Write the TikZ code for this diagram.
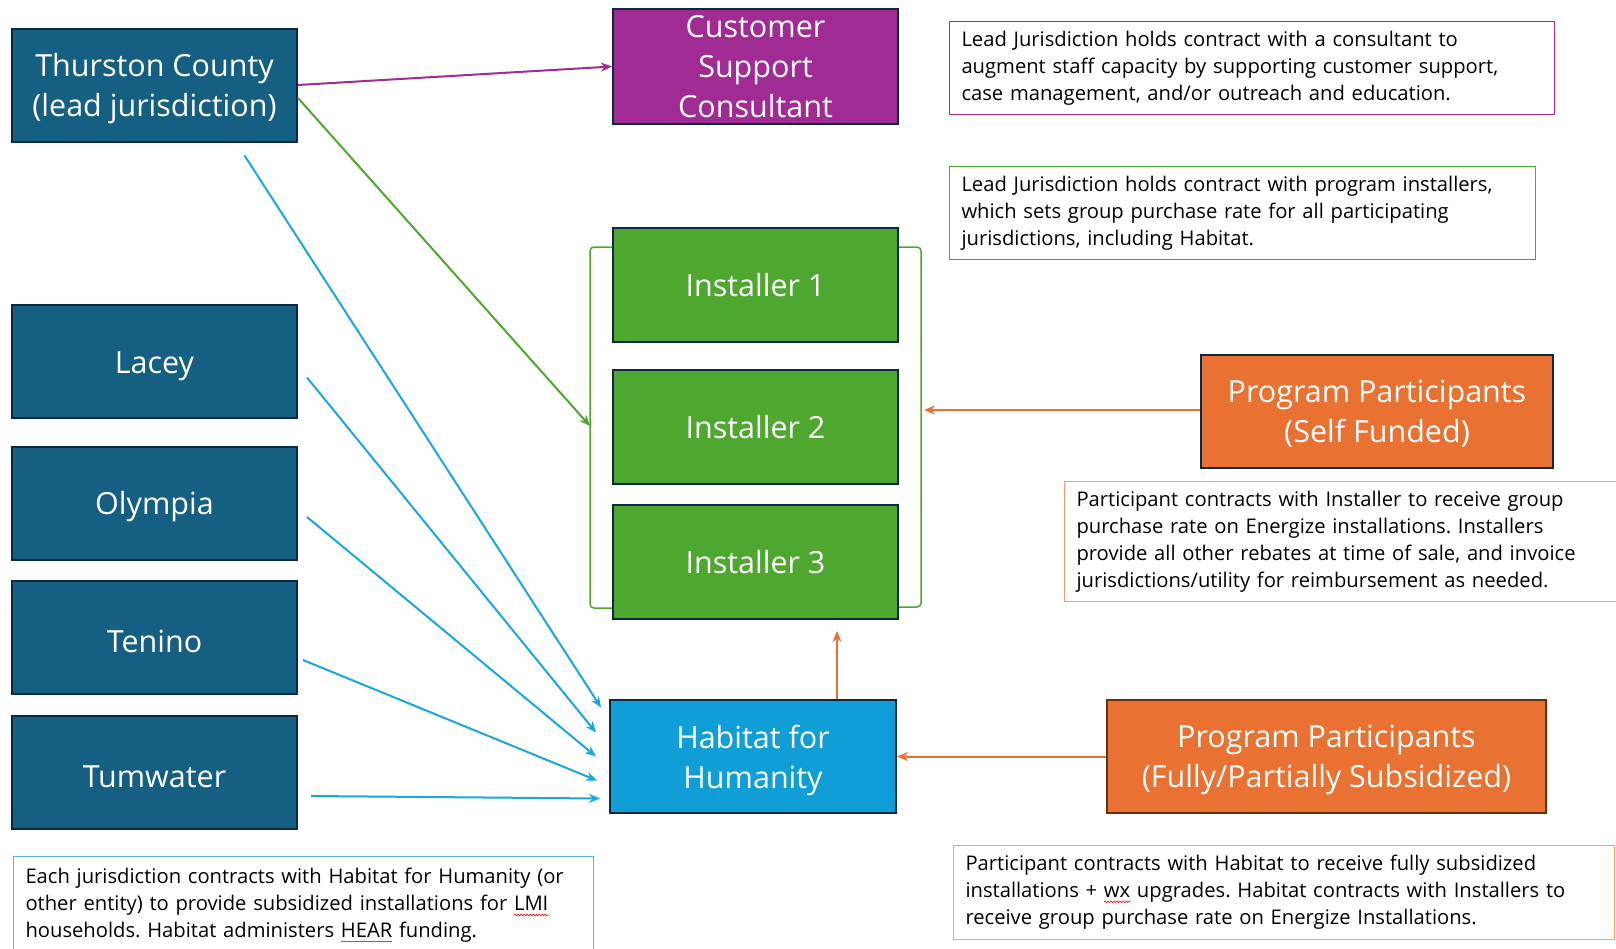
\documentclass[tikz,border=0pt]{standalone}
\usepackage{fontspec}
\setmainfont{Open Sans}
\frenchspacing
\usetikzlibrary{arrows.meta,calc,decorations.pathmorphing}
\definecolor{jurblue}{HTML}{156082}
\definecolor{navy}{HTML}{0E2841}
\definecolor{cpurple}{HTML}{A02B93}
\definecolor{cgreen}{HTML}{4EA72E}
\definecolor{cblue}{HTML}{0F9ED5}
\definecolor{corange}{HTML}{E97132}
\definecolor{lorange}{HTML}{F0A070}
\definecolor{lblue}{HTML}{5BB8E3}
\definecolor{brownb}{HTML}{6B2E0E}
\definecolor{arrblue}{HTML}{1AA7E0}
\definecolor{ulblue}{HTML}{4472C4}
\newsavebox\ulbox
\newcommand\redwave[1]{\sbox\ulbox{#1}\rlap{\tikz[baseline=0pt]\draw[red,line width=0.6pt,decorate,decoration={snake,amplitude=0.9pt,segment length=3pt}](0pt,-4pt)--(\wd\ulbox,-4pt);}\usebox\ulbox}
\newcommand\blueul[1]{\sbox\ulbox{#1}\rlap{\textcolor{ulblue}{\rule[-4pt]{\wd\ulbox}{1.2pt}}}\usebox\ulbox}
\tikzset{
  box/.style={draw=navy, line width=2pt, text=white, align=center,
    font=\fontsize{30.5}{40}\selectfont, inner sep=0pt},
  lower/.style={execute at begin node={\rule{0pt}{31pt}}},
  lowerml/.style={text depth=-1pt},
  jur/.style={box, fill=jurblue, minimum width=285pt, minimum height=113pt},
  inst/.style={box, fill=cgreen, minimum width=285pt, minimum height=114pt},
  note/.style={draw, line width=1pt, align=left, anchor=north west,
    font=\fontsize{20.2}{27}\selectfont, inner xsep=12pt, inner ysep=8pt, text=black},
  arr/.style={line width=2pt, -{Stealth[length=11pt,width=9pt]}},
}
\begin{document}
\begin{tikzpicture}[x=1pt,y=-1pt]
\useasboundingbox (0,0) rectangle (1616,948);
\fill[white] (0,0) rectangle (1616,948);

% jurisdictions
\node[jur, lowerml] (thurston) at (154.5,85) {Thurston County\\(lead jurisdiction)};
\node[jur, lower] (lacey) at (154.5,361.5) {Lacey};
\node[jur, lower] (olympia) at (154.5,503) {Olympia};
\node[jur, lower] (tenino) at (154.5,637) {Tenino};
\node[jur, lower] (tumwater) at (154.5,772) {Tumwater};

% center column
\node[box, fill=cpurple, minimum width=285pt, minimum height=115pt] (csc) at (755.5,66.5) {Customer\\Support\\Consultant};
\node[inst] (inst1) at (755.5,285) {Installer 1};
\node[inst] (inst2) at (755.5,427) {Installer 2};
\node[inst] (inst3) at (755.5,562) {Installer 3};
\node[box, lowerml, fill=cblue, minimum width=286pt, minimum height=113pt] (habitat) at (753,756.5) {Habitat for\\Humanity};

% participants
\node[box, lowerml, fill=corange, minimum width=352pt, minimum height=113pt] (ppself) at (1377,411.5) {Program Participants\\(Self Funded)};
\node[box, lowerml, fill=corange, draw=brownb, minimum width=439pt, minimum height=113pt] (ppfull) at (1326.5,756.5) {Program Participants\\(Fully/Partially Subsidized)};

% notes
\node[note, draw=cpurple, text width=581pt, minimum height=93pt] (n1) at (949,21)
 {Lead Jurisdiction holds contract with a consultant to\\augment staff capacity by supporting customer support,\\case management, and/or outreach and education.};
\node[note, draw=cgreen, text width=562pt, minimum height=93pt] (n2) at (949,166)
 {Lead Jurisdiction holds contract with program installers,\\which sets group purchase rate for all participating\\jurisdictions, including Habitat.};
\node[note, draw=lorange, text width=540pt, minimum height=120pt] (n3) at (1064,481)
 {Participant contracts with Installer to receive group\\purchase rate on Energize installations. Installers\\provide all other rebates at time of sale, and invoice\\jurisdictions/utility for reimbursement as needed.};
\node[note, draw=lorange, text width=637pt, minimum height=94pt] (n4) at (953,845)
 {Participant contracts with Habitat to receive fully subsidized\\installations + \redwave{wx} upgrades. Habitat contracts with Installers to\\receive group purchase rate on Energize Installations.};
\node[note, draw=none, text width=555pt, inner ysep=12pt] (n5) at (13,856)
 {Each jurisdiction contracts with Habitat for Humanity (or\\other entity) to provide subsidized installations for \redwave{LMI}\\households. Habitat administers \blueul{HEAR} funding.};
\draw[lblue, line width=1pt] ($(n5.north west)+(0,110)$) -- (n5.north west) -- (n5.north east) -- ++(0,110);

% bracket around installers
\coordinate (brL) at (590,426);
\coordinate (brR) at (921,410);
\draw[cgreen, line width=1.5pt, rounded corners=4pt]
  (inst1.west |- 0,247) -- (590,247) -- (590,608) -- (inst3.west |- 0,608);
\draw[cgreen, line width=1.5pt, rounded corners=4pt]
  (inst1.east |- 0,247) -- (921,247) -- (921,607) -- (inst3.east |- 0,607);

% connectors
\draw[arr, cpurple] (thurston.east) -- (csc.west);
\draw[arr, cgreen] ($(thurston.east)+(0,13)$) -- (brL);
\draw[arr, arrblue] ($(thurston.south)+(90,13)$) -- ($(habitat.west)+(-8,-49)$);
\draw[arr, arrblue] ($(lacey.east)+(9,16)$) -- ($(habitat.west)+(-13,-24)$);
\draw[arr, arrblue] ($(olympia.east)+(9,14)$) -- ($(habitat.west)+(-13,0)$);
\draw[arr, arrblue] ($(tenino.east)+(5,23)$) -- ($(habitat.west)+(-12,24)$);
\draw[arr, arrblue] ($(tumwater.east)+(13,24)$) -- ($(habitat.west)+(-9,42)$);
\draw[arr, corange] (ppself.west |- brR) -- ($(brR)+(3,0)$);
\draw[arr, corange] (ppfull.west) -- (habitat.east);
\draw[arr, corange] ($(habitat.north)+(84,0)$) -- ($(inst3.south)+(81.5,11)$);
\end{tikzpicture}
\end{document}
